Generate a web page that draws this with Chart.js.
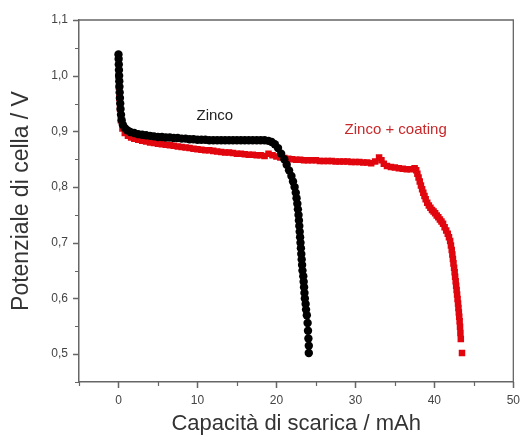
<!DOCTYPE html>
<html>
<head>
<meta charset="utf-8">
<script src="https://cdn.jsdelivr.net/npm/chart.js@4.4.1/dist/chart.umd.min.js"></script>
<style>
  body { margin: 0; background: #fff; }
  #wrap { width: 531px; height: 441px; }
</style>
</head>
<body>
<div id="wrap"><canvas id="chart" width="531" height="441"></canvas></div>
<script>
// Zinco (black circles): capacity in mAh, potential in V
const zincoX = [0, 0.02, 0.04, 0.06, 0.08, 0.1, 0.12, 0.15, 0.18, 0.22, 0.26, 0.32, 0.4, 0.55, 0.8, 1.1, 1.5, 2, 2.5, 3,
  3.5, 4, 4.5, 5, 5.5, 6, 6.5, 7, 7.5, 8, 8.5, 9, 9.5, 10, 10.5, 11, 11.5, 12, 12.5, 13,
  13.5, 14, 14.5, 15, 15.5, 16, 16.5, 17, 17.5, 18, 18.5, 19, 19.4, 19.8, 20.2, 20.6, 21, 21.3, 21.6, 21.9,
  22.1, 22.3, 22.45, 22.55, 22.65, 22.72, 22.8, 22.85, 22.9, 22.95, 23, 23.05, 23.1, 23.15, 23.2, 23.25, 23.3, 23.4, 23.45, 23.5,
  23.55, 23.6, 23.7, 23.75, 23.85, 23.95, 24, 24.05, 24.1, 24.1];
const zincoY = [1.038, 1.03, 1.02, 1.01, 1.0, 0.99, 0.98, 0.97, 0.96, 0.95, 0.94, 0.93, 0.92, 0.912, 0.906, 0.902, 0.899, 0.897, 0.895, 0.894,
  0.893, 0.892, 0.891, 0.89, 0.89, 0.889, 0.889, 0.888, 0.888, 0.887, 0.887, 0.886, 0.886, 0.885, 0.885, 0.885, 0.884, 0.884, 0.884, 0.884,
  0.884, 0.884, 0.884, 0.884, 0.884, 0.884, 0.884, 0.884, 0.884, 0.884, 0.884, 0.883, 0.881, 0.877, 0.87, 0.86, 0.85, 0.84, 0.83, 0.82,
  0.81, 0.8, 0.79, 0.78, 0.77, 0.76, 0.75, 0.74, 0.73, 0.72, 0.71, 0.7, 0.69, 0.68, 0.67, 0.66, 0.65, 0.64, 0.63, 0.62,
  0.61, 0.6, 0.59, 0.58, 0.57, 0.556, 0.542, 0.528, 0.515, 0.502];

// Zinco + coating (red squares)
const coatingX = [0, 0.05, 0.1, 0.2, 0.3, 0.5, 0.8, 1.2, 1.6, 2, 2.5, 3, 3.5, 4, 4.5, 5, 5.5, 6, 6.5, 7,
  7.5, 8, 8.5, 9, 9.5, 10, 10.5, 11, 11.5, 12, 12.5, 13, 13.5, 14, 14.5, 15, 15.5, 16, 16.5, 17,
  17.5, 18, 18.5, 19, 19.5, 20, 20.5, 21, 21.5, 22, 22.5, 23, 23.5, 24, 24.5, 25, 25.5, 26, 26.5, 27,
  27.5, 28, 28.5, 29, 29.5, 30, 30.5, 31, 31.5, 32, 32.5, 33, 33.3, 33.6, 34, 34.5, 35, 35.5, 36, 36.5,
  37, 37.5, 37.7, 37.85, 38, 38.15, 38.3, 38.45, 38.6, 38.75, 38.9, 39.1, 39.3, 39.5, 39.7, 39.9, 40.1, 40.3, 40.5, 40.7,
  40.9, 41.1, 41.3, 41.5, 41.7, 41.85, 42, 42.1, 42.2, 42.28, 42.35, 42.42, 42.5, 42.57, 42.63, 42.7, 42.76, 42.82, 42.88, 42.94,
  43, 43.05, 43.1, 43.15, 43.2, 43.25, 43.3, 43.35, 43.5];
const coatingY = [1.0, 0.98, 0.96, 0.94, 0.92, 0.905, 0.897, 0.892, 0.889, 0.887, 0.885, 0.883, 0.882, 0.88, 0.879, 0.878, 0.877, 0.876, 0.875, 0.874,
  0.873, 0.872, 0.871, 0.87, 0.869, 0.868, 0.867, 0.866, 0.866, 0.865, 0.864, 0.863, 0.862, 0.862, 0.861, 0.86, 0.86, 0.859, 0.858, 0.858,
  0.857, 0.857, 0.856, 0.86, 0.857, 0.855, 0.853, 0.852, 0.851, 0.85, 0.849, 0.849, 0.848, 0.848, 0.848, 0.848, 0.847, 0.847, 0.847, 0.847,
  0.846, 0.846, 0.846, 0.846, 0.845, 0.845, 0.845, 0.844, 0.844, 0.843, 0.846, 0.853, 0.848, 0.842, 0.838, 0.836, 0.835, 0.834, 0.833, 0.832,
  0.832, 0.834, 0.83, 0.824, 0.817, 0.81, 0.803, 0.796, 0.79, 0.784, 0.778, 0.772, 0.767, 0.763, 0.759, 0.756, 0.753, 0.749, 0.746, 0.742,
  0.738, 0.734, 0.728, 0.722, 0.716, 0.71, 0.703, 0.695, 0.687, 0.679, 0.671, 0.663, 0.655, 0.647, 0.639, 0.631, 0.623, 0.615, 0.607, 0.599,
  0.591, 0.583, 0.575, 0.567, 0.559, 0.549, 0.538, 0.527, 0.502];

const xTickValues = [0, 10, 20, 30, 40, 50];
const xTickLabels = ['0', '10', '20', '30', '40', '50'];
const yTickValues = [0.5, 0.6, 0.7, 0.8, 0.9, 1.0, 1.1];
const yTickLabels = ['0,5', '0,6', '0,7', '0,8', '0,9', '1,0', '1,1'];
const xMinorTicks = [-5, 5, 15, 25, 35, 45];
const yMinorTicks = [0.45, 0.55, 0.65, 0.75, 0.85, 0.95, 1.05];

const seriesNames = ['Zinco', 'Zinco + coating'];

function toPoints(xs, ys) {
    return xs.map((x, i) => ({ x: x, y: ys[i] }));
}

const axisColor = '#666';
const fontFamily = '"Liberation Sans", Arial, sans-serif';

// tick marks outside the axes, frame on top and right, curve labels
const decorPlugin = {
    id: 'decor',
    afterDraw(chart) {
        const ctx = chart.ctx;
        const xs = chart.scales.x;
        const ys = chart.scales.y;
        const a = chart.chartArea;
        ctx.save();
        ctx.strokeStyle = axisColor;
        ctx.lineWidth = 1.3;
        ctx.beginPath();
        ctx.moveTo(a.left, a.top);
        ctx.lineTo(a.right, a.top);
        ctx.lineTo(a.right, a.bottom);
        ctx.stroke();

        function yTick(v, len) {
            const p = Math.round(ys.getPixelForValue(v)) + 0.5;
            ctx.moveTo(a.left - len, p);
            ctx.lineTo(a.left, p);
        }
        function xTick(v, len) {
            const p = Math.round(xs.getPixelForValue(v)) + 0.5;
            ctx.moveTo(p, a.bottom);
            ctx.lineTo(p, a.bottom + len);
        }
        ctx.lineWidth = 1.5;
        ctx.beginPath();
        yTickValues.forEach(v => yTick(v, 6));
        xTickValues.forEach(v => xTick(v, 6));
        ctx.stroke();
        ctx.lineWidth = 1.2;
        ctx.beginPath();
        yMinorTicks.forEach(v => yTick(v, 4));
        xMinorTicks.forEach(v => xTick(v, 4));
        ctx.stroke();

        ctx.font = '15px ' + fontFamily;
        ctx.textAlign = 'center';
        ctx.textBaseline = 'middle';
        ctx.fillStyle = '#222';
        ctx.fillText(seriesNames[0], xs.getPixelForValue(12.2), ys.getPixelForValue(0.928));
        ctx.fillStyle = '#c8282a';
        ctx.fillText(seriesNames[1], xs.getPixelForValue(35.1), ys.getPixelForValue(0.902));
        ctx.restore();
    }
};

const ctx = document.getElementById('chart').getContext('2d');

new Chart(ctx, {
    type: 'scatter',
    data: {
        datasets: [{
            label: seriesNames[0],
            data: toPoints(zincoX, zincoY),
            pointStyle: 'circle',
            pointRadius: 4.2,
            backgroundColor: '#000',
            borderColor: '#000',
            borderWidth: 0
        }, {
            label: seriesNames[1],
            data: toPoints(coatingX, coatingY),
            pointStyle: 'rect',
            pointRadius: 4.6,
            backgroundColor: '#e1060e',
            borderColor: '#e1060e',
            borderWidth: 0
        }]
    },
    options: {
        responsive: false,
        animation: false,
        layout: { padding: { top: 20, right: 7, left: 0, bottom: 0 } },
        plugins: {
            legend: { display: false },
            tooltip: { enabled: false }
        },
        scales: {
            x: {
                type: 'linear',
                min: -5,
                max: 50,
                grid: { display: false, drawTicks: false },
                border: { display: true, color: axisColor, width: 1.5 },
                afterBuildTicks: axis => { axis.ticks = xTickValues.map(v => ({ value: v })); },
                afterFit: axis => { axis.height = 59; },
                ticks: {
                    padding: 11,
                    color: '#444',
                    font: { family: fontFamily, size: 12 },
                    maxRotation: 0,
                    callback: (value, index) => xTickLabels[index]
                },
                title: {
                    display: true,
                    text: 'Capacità di scarica / mAh',
                    color: '#333',
                    padding: { top: 0, bottom: 4 },
                    font: { family: fontFamily, size: 22 }
                }
            },
            y: {
                type: 'linear',
                min: 0.45,
                max: 1.1,
                grid: { display: false, drawTicks: false },
                border: { display: true, color: axisColor, width: 1.5 },
                afterBuildTicks: axis => { axis.ticks = yTickValues.map(v => ({ value: v })); },
                afterFit: axis => { axis.width = 79; },
                ticks: {
                    padding: 11,
                    color: '#444',
                    font: { family: fontFamily, size: 12 },
                    callback: (value, index) => yTickLabels[index]
                },
                title: {
                    display: true,
                    text: 'Potenziale di cella / V',
                    color: '#333',
                    padding: { top: 8, bottom: 0 },
                    font: { family: fontFamily, size: 23 }
                }
            }
        }
    },
    plugins: [decorPlugin]
});
</script>
</body>
</html>
